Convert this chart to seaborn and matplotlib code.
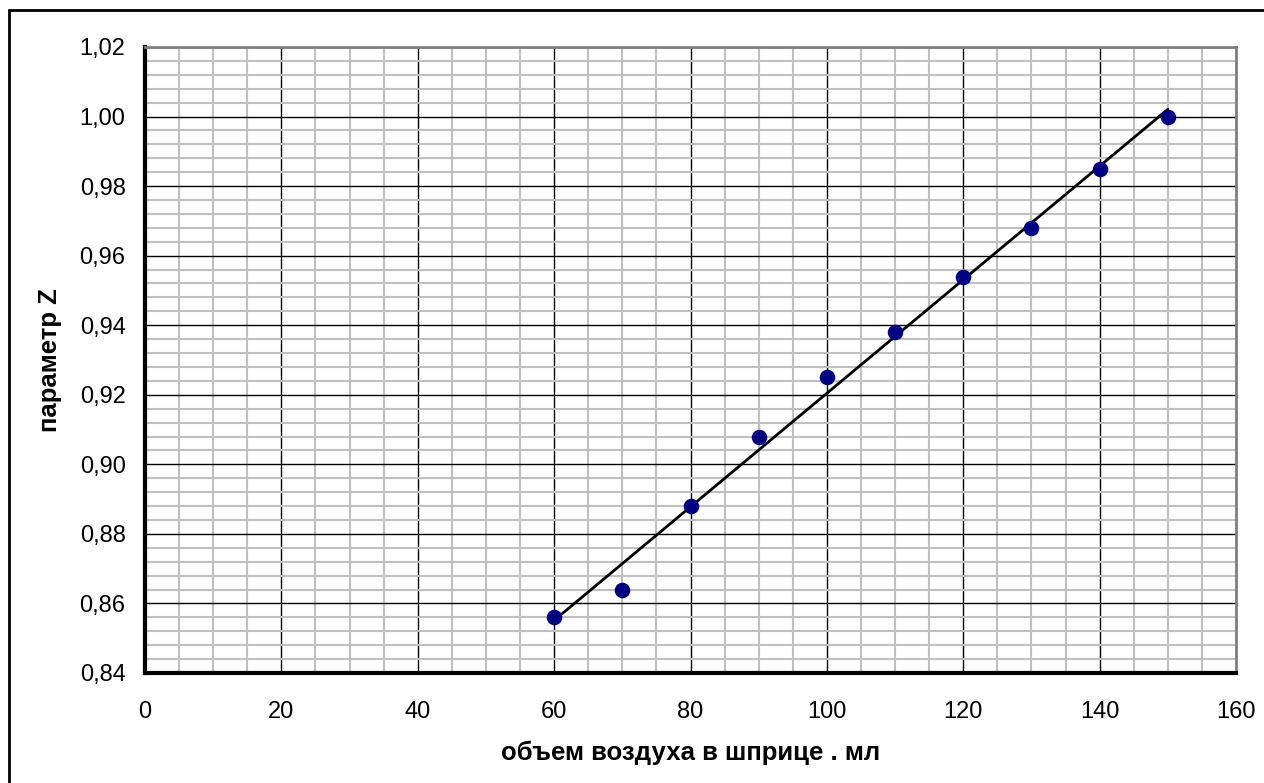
import numpy as np
import pandas as pd
import seaborn as sns
import matplotlib.pyplot as plt
from matplotlib.lines import Line2D
from matplotlib.ticker import MultipleLocator

# data
volume_ml = [60, 70, 80, 90, 100, 110, 120, 130, 140, 150]
param_z = [0.856, 0.864, 0.888, 0.908, 0.925, 0.938, 0.954, 0.968, 0.985, 1.000]

x_ticks = [0, 20, 40, 60, 80, 100, 120, 140, 160]
y_ticks = [0.84, 0.86, 0.88, 0.90, 0.92, 0.94, 0.96, 0.98, 1.00, 1.02]
y_tick_labels = ["0,84", "0,86", "0,88", "0,90", "0,92", "0,94", "0,96", "0,98", "1,00", "1,02"]

x_label = "объем воздуха в шприце . мл"
y_label = "параметр Z"

df = pd.DataFrame({"volume": volume_ml, "z": param_z})

sns.set_style("white")
plt.rcParams["font.family"] = ["Liberation Sans", "DejaVu Sans"]
plt.rcParams.update({"text.color": "black", "axes.labelcolor": "black",
                     "xtick.color": "black", "ytick.color": "black"})

fig = plt.figure(figsize=(12.64, 7.83), dpi=100)
ax = fig.add_axes([145 / 1264, 1 - 673 / 783, (1236 - 145) / 1264, (673 - 47) / 783])

# trendline (least squares fit over data range) and markers
sns.regplot(data=df, x="volume", y="z", ax=ax, scatter=False, ci=None,
            truncate=True, line_kws={"color": "black", "lw": 2, "zorder": 3})
sns.scatterplot(data=df, x="volume", y="z", ax=ax, color="#000080", s=125,
                edgecolor="#000080", linewidth=0, zorder=4)

ax.set_xlim(0, 160)
ax.set_ylim(0.84, 1.02)
ax.set_xticks(x_ticks)
ax.set_xticklabels([str(t) for t in x_ticks])
ax.set_yticks(y_ticks)
ax.set_yticklabels(y_tick_labels)
ax.xaxis.set_minor_locator(MultipleLocator(5))
ax.yaxis.set_minor_locator(MultipleLocator(0.004))

ax.grid(which="minor", color="#c0c0c0", lw=1.5, zorder=0)
ax.grid(which="major", color="black", lw=1.0, zorder=1)
ax.set_axisbelow(True)

ax.tick_params(which="major", direction="out", length=5, width=3, color="black",
               labelcolor="black", labelsize=17, pad=9)
ax.tick_params(axis="x", which="major", pad=15)
ax.tick_params(which="minor", length=0)

for side in ["left", "bottom"]:
    ax.spines[side].set_color("black")
    ax.spines[side].set_linewidth(3)
for side in ["top", "right"]:
    ax.spines[side].set_color("#808080")
    ax.spines[side].set_linewidth(2)

ax.set_xlabel(x_label, fontsize=18.5, fontweight="bold", labelpad=13, color="black")
ax.set_ylabel(y_label, fontsize=18.5, fontweight="bold", labelpad=13, color="black")

# outer chart-area frame
fig.add_artist(Line2D([8.5 / 1264, 8.5 / 1264], [0, 1 - 10 / 783], color="black", lw=2))
fig.add_artist(Line2D([8.5 / 1264, 1], [1 - 10 / 783, 1 - 10 / 783], color="black", lw=2))

fig.savefig("out.png", dpi=100)
plt.close(fig)
